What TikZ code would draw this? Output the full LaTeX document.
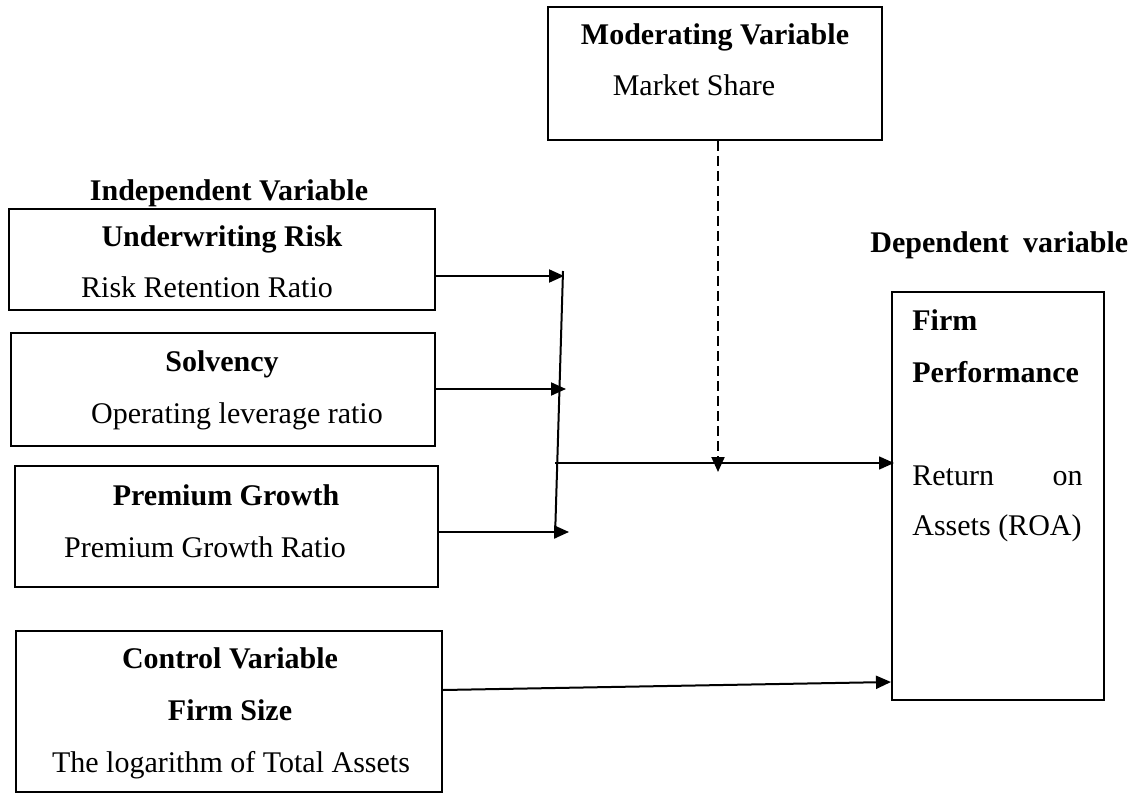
\documentclass[tikz,border=0pt]{standalone}
\usepackage{fontspec}
\setmainfont{Liberation Serif}
\usetikzlibrary{arrows.meta}
\begin{document}
\begin{tikzpicture}[x=0.5pt,y=-0.5pt,
  pbox/.style={draw, line width=1pt, inner sep=0pt},
  lbl/.style={anchor=base, inner sep=0pt, font=\fontsize{15}{18}\selectfont},
  blbl/.style={anchor=base, inner sep=0pt, font=\fontsize{15}{18}\selectfont\bfseries},
  conn/.style={line width=1pt, -{Triangle[length=7.5pt,width=6.5pt]}},
  plain/.style={line width=1pt}]
\useasboundingbox (0,0) rectangle (1138,796);

% Moderating
\node[pbox, minimum width=167pt, minimum height=66.5pt] (mod) at (715,73.5) {};
\node[blbl] (modt) at (715,45) {Moderating Variable};
\node[lbl] (mods) at (694,96) {Market Share};

% Independent
\node[blbl] (indt) at (229,201) {Independent Variable};
\node[pbox, minimum width=213pt, minimum height=50.5pt] (b1) at (222,259.5) {};
\node[blbl] (b1t) at (222,247) {Underwriting Risk};
\node[lbl] (b1s) at (207,298) {Risk Retention Ratio};

\node[pbox, minimum width=212pt, minimum height=56.5pt] (b2) at (223,389.5) {};
\node[blbl] (b2t) at (222,371) {Solvency};
\node[lbl] (b2s) at (237,423) {Operating leverage ratio};

\node[pbox, minimum width=211.5pt, minimum height=60.5pt] (b3) at (226.5,526.5) {};
\node[blbl] (b3t) at (226,505) {Premium Growth};
\node[lbl] (b3s) at (205,557) {Premium Growth Ratio};

% Control
\node[pbox, minimum width=213pt, minimum height=80.5pt] (ctl) at (229,711.5) {};
\node[blbl] (ctlt) at (230,668) {Control Variable};
\node[blbl] (ctls) at (230,720) {Firm Size};
\node[lbl] (ctlm) at (231,772) {The logarithm of Total Assets};

% Dependent
\node[blbl, anchor=base west] (dept) at (870,253) {Dependent\hspace{3.5pt} variable};
\node[pbox, minimum width=106pt, minimum height=204pt] (dep) at (998,496) {};
\node[blbl, anchor=base west] (dep1) at (912,330) {Firm};
\node[blbl, anchor=base west] (dep2) at (912,382) {Performance};
\node[lbl, anchor=base west] (dep3) at (912,485) {Return};
\node[lbl, anchor=base east] (dep4) at (1083,485) {on};
\node[lbl, anchor=base west] (dep5) at (912,535) {Assets (ROA)};

% connectors
\coordinate (bt) at (563,271);
\coordinate (bb) at (555,538);
\coordinate (t1) at (564,276);
\coordinate (t2) at (566,389);
\coordinate (t3) at (569,532);
\coordinate (hs) at (555,463);
\coordinate (dx) at (718,472);
\coordinate (cs) at (0,690);
\coordinate (ce) at (0,682);

\draw[conn] (b1.east |- t1) -- (t1);
\draw[conn] (b2.east |- t2) -- (t2);
\draw[conn] (b3.east |- t3) -- (t3);
\draw[plain] (bt) -- (bb);
\draw[conn, line width=0.75pt] (hs) -- ([xshift=1.5pt]hs -| dep.west);
\draw[conn, dash pattern=on 5pt off 2.5pt] (mod.south -| dx) -- (dx);
\draw[conn] (ctl.east |- cs) -- (dep.west |- ce);
\end{tikzpicture}
\end{document}
